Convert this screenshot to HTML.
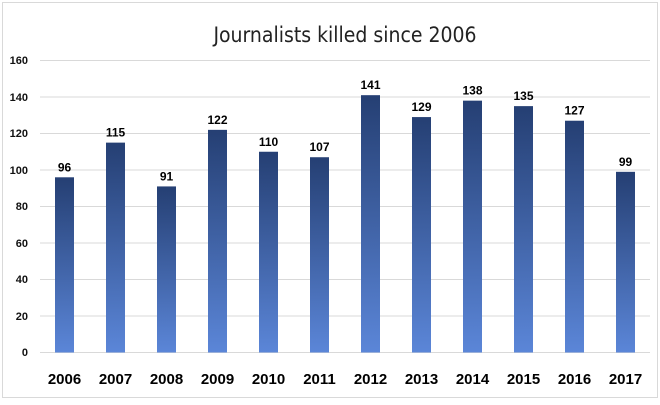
<!DOCTYPE html>
<html><head><style>
body{margin:0;width:660px;height:400px;background:#fff;overflow:hidden}
</style></head><body>
<svg width="660" height="400" xmlns="http://www.w3.org/2000/svg" font-family="Liberation Sans, sans-serif">
<defs><linearGradient id="g" x1="0" y1="0" x2="0" y2="1">
<stop offset="0" stop-color="#253f73"/><stop offset="1" stop-color="#5b86d8"/></linearGradient></defs>
<rect x="2.5" y="2.5" width="655" height="395" fill="none" stroke="#d9d9d9"/>
<text x="345" y="42" font-size="21" text-anchor="middle" fill="#222" font-family="DejaVu Sans Condensed, Liberation Sans Narrow, sans-serif">Journalists killed since 2006</text>
<g stroke="#d9d9d9" stroke-width="1">
<line x1="40" x2="650" y1="60.5" y2="60.5"/><line x1="40" x2="650" y1="97" y2="97"/>
<line x1="40" x2="650" y1="133.5" y2="133.5"/><line x1="40" x2="650" y1="170" y2="170"/>
<line x1="40" x2="650" y1="206.5" y2="206.5"/><line x1="40" x2="650" y1="243" y2="243"/>
<line x1="40" x2="650" y1="279.5" y2="279.5"/><line x1="40" x2="650" y1="316" y2="316"/>
<line x1="40" x2="650" y1="352.5" y2="352.5"/></g>
<g font-size="11" font-weight="bold" text-anchor="end" fill="#111">
<text x="28" y="64">160</text><text x="28" y="101">140</text><text x="28" y="137">120</text>
<text x="28" y="174">100</text><text x="28" y="210">80</text><text x="28" y="247">60</text>
<text x="28" y="283">40</text><text x="28" y="320">20</text><text x="28" y="356">0</text></g>
<g id="bars"></g>
</svg>
<script>
var v=[96,115,91,122,110,107,141,129,138,135,127,99],ns="http://www.w3.org/2000/svg",g=document.getElementById('bars');
v.forEach(function(d,i){var cx=64.5+i*51,h=d*1.825,y=352.5-h;
var r=document.createElementNS(ns,'rect');r.setAttribute('x',cx-9.5);r.setAttribute('y',y);r.setAttribute('width',19);r.setAttribute('height',h);r.setAttribute('fill','url(#g)');g.appendChild(r);
var t=document.createElementNS(ns,'text');t.setAttribute('x',cx);t.setAttribute('y',y-6);t.setAttribute('font-size','12');t.setAttribute('font-weight','bold');t.setAttribute('text-anchor','middle');t.textContent=d;g.appendChild(t);
var l=document.createElementNS(ns,'text');l.setAttribute('x',cx);l.setAttribute('y',384);l.setAttribute('font-size','15');l.setAttribute('font-weight','bold');l.setAttribute('text-anchor','middle');l.textContent=2006+i;g.appendChild(l);});
</script>
</body></html>
